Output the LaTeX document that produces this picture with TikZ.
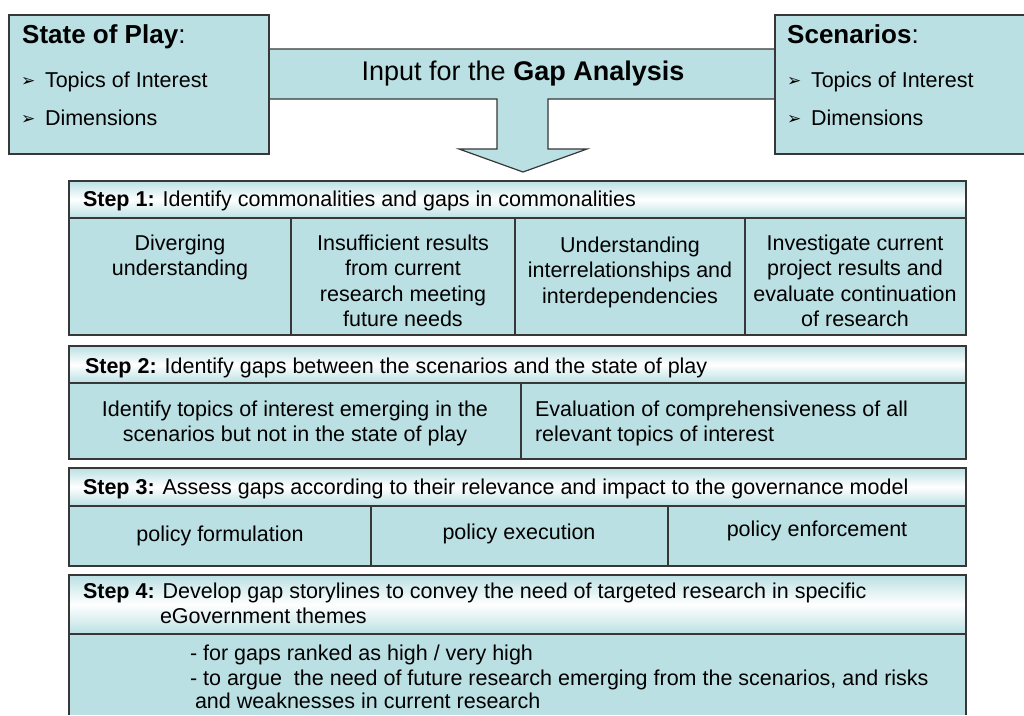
\documentclass[tikz,border=0pt]{standalone}
\usepackage{fontspec}
\setmainfont{Liberation Sans}
\newfontfamily\symfont{DejaVu Sans}
\definecolor{boxfill}{RGB}{187,224,227}
\definecolor{edgegray}{RGB}{55,55,55}
\tikzset{
  panel/.style={fill=boxfill, draw=edgegray, line width=1.2pt, line join=miter},
  edgeline/.style={draw=edgegray, line width=1.2pt},
  hdr/.style={top color=boxfill, bottom color=boxfill, middle color=white},
  body/.style={font=\fontsize{21.5}{25.5}\selectfont, inner sep=0pt, outer sep=0pt},
  titletxt/.style={font=\fontsize{26}{30}\selectfont, inner sep=0pt},
  bannertxt/.style={font=\fontsize{27}{31}\selectfont, inner sep=0pt},
  bul/.style={font=\symfont\fontsize{17}{19}\selectfont, inner sep=0pt},
}
\begin{document}
\begin{tikzpicture}[x=1pt,y=-1pt]
\useasboundingbox (0,0) rectangle (1024,715);
\fill[white] (0,0) rectangle (1024,715);

% banner arrow
\draw[panel] (262,49) -- (782,49) -- (782,99) -- (548,99) -- (548,149) -- (587,149)
  -- (523,172) -- (459,149) -- (497,149) -- (497,99) -- (262,99) -- cycle;
\node[bannertxt, anchor=base] (banner) at (523,80) {Input for the \textbf{Gap Analysis}};

% State of Play box
\draw[panel] (9,15) rectangle (269,154);
\node[titletxt, anchor=base west] (sopT) at (22,43) {\textbf{State of Play}:};
\node[bul, anchor=base west] (sopB1) at (21,86) {➢};
\node[body, anchor=base west] (sopI1) at (45,87) {Topics of Interest};
\node[bul, anchor=base west] (sopB2) at (21,124) {➢};
\node[body, anchor=base west] (sopI2) at (45,125) {Dimensions};

% Scenarios box
\fill[boxfill] (775,15) rectangle (1024,154);
\draw[edgeline] (1024,15) -- (775,15) -- (775,154) -- (1024,154);
\node[titletxt, anchor=base west] (scT) at (787,43) {\textbf{Scenarios}:};
\node[bul, anchor=base west] (scB1) at (787,86) {➢};
\node[body, anchor=base west] (scI1) at (811,87) {Topics of Interest};
\node[bul, anchor=base west] (scB2) at (787,124) {➢};
\node[body, anchor=base west] (scI2) at (811,125) {Dimensions};

% Step 1
\fill[boxfill] (69,218) rectangle (966,335);
\shade[hdr] (69,181) rectangle (966,218);
\draw[edgeline] (69,181) rectangle (966,335);
\draw[edgeline] (69,218) -- (966,218);
\draw[edgeline] (291,218) -- (291,335);
\draw[edgeline] (515,218) -- (515,335);
\draw[edgeline] (745,218) -- (745,335);
\node[body, anchor=base west] (s1h) at (83,206) {\textbf{Step 1:} Identify commonalities and gaps in commonalities};
\node[body, align=center, anchor=north] (s1a) at (180,234.5) {Diverging\\understanding};
\node[body, align=center, anchor=north] (s1b) at (403,234.5) {Insufficient results\\from current\\research meeting\\future needs};
\node[body, align=center, anchor=north] (s1c) at (630,236.5) {Understanding\\interrelationships and\\interdependencies};
\node[body, align=center, anchor=north] (s1d) at (855,234.5) {Investigate current\\project results and\\evaluate continuation\\of research};

% Step 2
\fill[boxfill] (69,383) rectangle (966,459);
\shade[hdr] (69,346) rectangle (966,383);
\draw[edgeline] (69,346) rectangle (966,459);
\draw[edgeline] (69,383) -- (966,383);
\draw[edgeline] (521,383) -- (521,459);
\node[body, anchor=base west] (s2h) at (85,373) {\textbf{Step 2:} Identify gaps between the scenarios and the state of play};
\node[body, align=center, anchor=north] (s2a) at (295,400.5) {Identify topics of interest emerging in the\\scenarios but not in the state of play};
\node[body, align=left, anchor=north west] (s2b) at (535,400.5) {Evaluation of comprehensiveness of all\\relevant topics of interest};

% Step 3
\fill[boxfill] (69,506) rectangle (966,566);
\shade[hdr] (69,468) rectangle (966,506);
\draw[edgeline] (69,468) rectangle (966,566);
\draw[edgeline] (69,506) -- (966,506);
\draw[edgeline] (371,506) -- (371,566);
\draw[edgeline] (668,506) -- (668,566);
\node[body, anchor=base west] (s3h) at (83,494) {\textbf{Step 3:} Assess gaps according to their relevance and impact to the governance model};
\node[body, anchor=base] (s3a) at (220,541) {policy formulation};
\node[body, anchor=base] (s3b) at (519,539) {policy execution};
\node[body, anchor=base] (s3c) at (817,536) {policy enforcement};

% Step 4
\fill[boxfill] (69,634) rectangle (966,715);
\shade[hdr] (69,575) rectangle (966,634);
\draw[edgeline] (69,715) -- (69,575) -- (966,575) -- (966,715);
\draw[edgeline] (69,634) -- (966,634);
\node[body, anchor=base west] (s4h) at (83,598) {\textbf{Step 4:} Develop gap storylines to convey the need of targeted research in specific};
\node[body, anchor=base west] (s4h2) at (160,623) {eGovernment themes};
\node[body, anchor=base west] (s4a) at (190,660) {- for gaps ranked as high / very high};
\node[body, anchor=base west] (s4b) at (190,685) {- to argue\ \ the need of future research emerging from the scenarios, and risks};
\node[body, anchor=base west] (s4c) at (195,708) {and weaknesses in current research};
\end{tikzpicture}
\end{document}
